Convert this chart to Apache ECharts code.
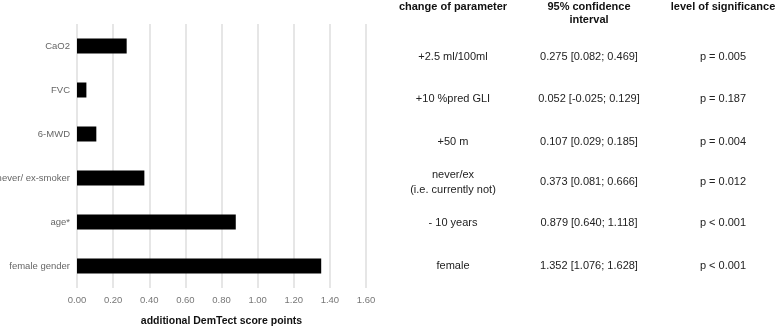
<!DOCTYPE html>
<html>
<head>
<meta charset="utf-8">
<script src="https://cdn.jsdelivr.net/npm/echarts@6/dist/echarts.min.js"></script>
<style>
html,body{margin:0;padding:0;background:#fff;}
#chart{width:777px;height:327px;}
</style>
</head>
<body>
<div id="chart"></div>
<script>
// Categories (top to bottom as displayed)
const categories = ['CaO2', 'FVC', '6-MWD', 'never/ ex-smoker', 'age*', 'female gender'];
const values = [0.275, 0.052, 0.107, 0.373, 0.879, 1.352];
const xTicks = { min: 0, max: 1.6, interval: 0.2 };
const axisTitle = 'additional DemTect score points';

// Table
const tableHeaders = ['change of parameter', '95% confidence\ninterval', 'level of significance'];
const changeOfParameter = ['+2.5 ml/100ml', '+10 %pred GLI', '+50 m', 'never/ex\n(i.e. currently not)', '- 10 years', 'female'];
const confidenceIntervals = ['0.275 [0.082; 0.469]', '0.052 [-0.025; 0.129]', '0.107 [0.029; 0.185]', '0.373 [0.081; 0.666]', '0.879 [0.640; 1.118]', '1.352 [1.076; 1.628]'];
const significance = ['p = 0.005', 'p = 0.187', 'p = 0.004', 'p = 0.012', 'p < 0.001', 'p < 0.001'];

const FONT = '"Liberation Sans", Arial, Helvetica, sans-serif';
const colX = [453, 589, 723];
const rowY = [57, 99, 142, 182, 223, 266];

const graphics = [];
tableHeaders.forEach((h, i) => {
  graphics.push({
    type: 'text', x: colX[i], y: 0,
    style: { text: h, textAlign: 'center', textVerticalAlign: 'top',
      font: 'bold 11px ' + FONT, fill: '#111', lineHeight: 13 }
  });
});
const cols = [changeOfParameter, confidenceIntervals, significance];
cols.forEach((col, ci) => {
  col.forEach((t, ri) => {
    graphics.push({
      type: 'text', x: colX[ci], y: rowY[ri],
      style: { text: t, textAlign: 'center', textVerticalAlign: 'middle',
        font: '11px ' + FONT, fill: '#222', lineHeight: 15 }
    });
  });
});

const chart = echarts.init(document.getElementById('chart'), null, { renderer: 'canvas' });
chart.setOption({
  animation: false,
  backgroundColor: '#fff',
  grid: { left: 77, right: 411, top: 24, bottom: 39, containLabel: false, outerBoundsMode: 'none' },
  xAxis: {
    type: 'value', min: xTicks.min, max: xTicks.max, interval: xTicks.interval,
    name: axisTitle, nameLocation: 'middle', nameGap: 28,
    nameTextStyle: { fontFamily: FONT, fontWeight: 'bold', fontSize: 10.5, color: '#111' },
    axisLine: { show: false }, axisTick: { show: false },
    axisLabel: { fontFamily: FONT, fontSize: 9.5, color: '#777', margin: 7,
      formatter: v => v.toFixed(2) },
    splitLine: { show: true, lineStyle: { color: '#dedede', width: 1.5 } }
  },
  yAxis: {
    type: 'category', data: categories, inverse: true,
    axisLine: { show: false }, axisTick: { show: false },
    axisLabel: { fontFamily: FONT, fontSize: 9.5, color: '#666', margin: 7 },
    splitLine: { show: false }
  },
  series: [{
    type: 'bar', data: values, barWidth: 15,
    itemStyle: { color: '#000' }
  }],
  graphic: graphics
});
</script>
</body>
</html>
